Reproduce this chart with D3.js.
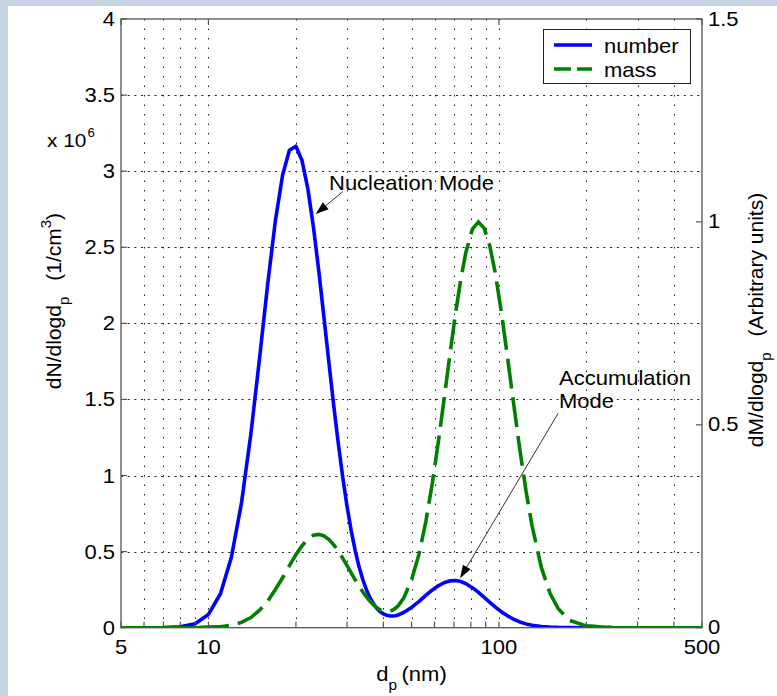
<!DOCTYPE html>
<html>
<head>
<meta charset="utf-8">
<script src="https://cdn.jsdelivr.net/npm/d3@7"></script>
<style>
  html, body { margin: 0; padding: 0; background: #fff; }
  svg { display: block; font-family: "Liberation Sans", Arial, Helvetica, sans-serif; }
</style>
</head>
<body>
<svg id="chart" width="777" height="696"></svg>
<script>
// Particle diameter (nm)
const diameters = [5, 6, 7, 8, 9, 10, 11, 12, 13, 14, 15, 16, 17, 18, 19, 20, 21, 22, 23, 24,
  25, 26, 27, 28, 29, 30, 31, 32, 33, 34, 35, 36, 37, 38, 39, 40, 41, 42, 43, 44, 45,
  47, 50, 53, 56, 59, 62, 65, 68, 71, 74, 77, 81, 85, 89, 93, 97, 102, 107, 112, 118,
  124, 130, 140, 150, 160, 175, 200, 250, 300, 400, 500];

// dN/dlogdp in units of 10^6 cm^-3 (left axis)
const numberDist = [0, 0, 0.001, 0.006, 0.026, 0.087, 0.223, 0.465, 0.822, 1.274, 1.774, 2.261,
  2.675, 2.975, 3.138, 3.164, 3.070, 2.882, 2.628, 2.338, 2.034, 1.737, 1.459, 1.208, 0.987,
  0.797, 0.638, 0.507, 0.400, 0.315, 0.248, 0.195, 0.156, 0.127, 0.105, 0.091, 0.082, 0.078,
  0.077, 0.079, 0.084, 0.100, 0.133, 0.172, 0.212, 0.248, 0.277, 0.297, 0.308, 0.310, 0.303,
  0.289, 0.263, 0.232, 0.199, 0.167, 0.137, 0.104, 0.078, 0.057, 0.038, 0.025, 0.016, 0.008,
  0.004, 0.002, 0.001, 0, 0, 0, 0, 0];

// dM/dlogdp, arbitrary units (right axis)
const massDist = [0, 0, 0, 0, 0, 0.001, 0.002, 0.006, 0.013, 0.025, 0.043, 0.066, 0.094, 0.123,
  0.153, 0.180, 0.202, 0.218, 0.228, 0.230, 0.226, 0.217, 0.204, 0.189, 0.171, 0.153, 0.135,
  0.118, 0.102, 0.088, 0.076, 0.065, 0.056, 0.049, 0.044, 0.041, 0.040, 0.041, 0.043, 0.048,
  0.054, 0.073, 0.117, 0.180, 0.261, 0.357, 0.463, 0.573, 0.680, 0.778, 0.861, 0.926, 0.982,
  1.000, 0.984, 0.941, 0.876, 0.776, 0.667, 0.559, 0.439, 0.336, 0.251, 0.148, 0.084, 0.047,
  0.018, 0.004, 0, 0, 0, 0];

// Axis ticks
const xMajorTicks = [5, 10, 100, 500];
const xMinorTicks = [6, 7, 8, 9, 20, 30, 40, 50, 60, 70, 80, 90, 200, 300, 400];
const leftTicks = [0, 0.5, 1, 1.5, 2, 2.5, 3, 3.5, 4];
const rightTicks = [0, 0.5, 1, 1.5];
const seriesNames = ["number", "mass"];

// Annotations placed in data coordinates (dp, left-axis value)
const annotations = [
  { lines: ["Nucleation Mode"], at: [26.0, 2.878], tail: [29.0, 2.866], tip: [23.4, 2.718] },
  { lines: ["Accumulation", "Mode"], at: [161, 1.595], tail: [160, 1.41], tip: [73.5, 0.325] }
];

const FS = 20;      // text size
const SX = 1.1;     // horizontal text stretch
const blue = "#0000ff", green = "#008000";

const svg = d3.select("#chart");
const W = 777, H = 696;
const plot = { left: 121, right: 702, top: 19, bottom: 627.7 };

// page frame strips
svg.append("rect").attr("x", 0).attr("y", 0).attr("width", W).attr("height", H).attr("fill", "#fff");
svg.append("rect").attr("x", 0).attr("y", 0).attr("width", 8).attr("height", H).attr("fill", "#c7d4e3");
svg.append("rect").attr("x", 0).attr("y", 0).attr("width", W).attr("height", 6).attr("fill", "#c7d4e3");

const x = d3.scaleLog().domain([5, 500]).range([plot.left, plot.right]);
const yL = d3.scaleLinear().domain([0, 4]).range([plot.bottom, plot.top]);
const yR = d3.scaleLinear().domain([0, 1.5]).range([plot.bottom, plot.top]);

function stretchedText(parent, px, py, str, anchor, size) {
  return parent.append("text")
    .attr("transform", `translate(${px},${py}) scale(${SX},1)`)
    .attr("text-anchor", anchor || "start")
    .attr("font-size", size || FS)
    .attr("fill", "#000")
    .text(str);
}

// grid
const grid = svg.append("g").attr("stroke", "#222").attr("stroke-width", 1).attr("fill", "none");
grid.selectAll("line.v").data(xMinorTicks.concat([10, 100])).join("line")
  .attr("x1", d => Math.round(x(d)) + 0.5).attr("x2", d => Math.round(x(d)) + 0.5)
  .attr("y1", plot.top).attr("y2", plot.bottom)
  .attr("stroke-dasharray", "1.5,8");
grid.selectAll("line.h").data(leftTicks.filter(d => d > 0 && d < 4)).join("line")
  .attr("y1", d => Math.round(yL(d)) + 0.5).attr("y2", d => Math.round(yL(d)) + 0.5)
  .attr("x1", plot.left).attr("x2", plot.right)
  .attr("stroke-dasharray", "2,4.7");

// curves
svg.append("clipPath").attr("id", "plotClip").append("rect")
  .attr("x", plot.left).attr("y", plot.top - 4)
  .attr("width", plot.right - plot.left).attr("height", plot.bottom - plot.top + 4);

const numberLine = d3.line().x((d, i) => x(diameters[i])).y(d => yL(d));
const massLine = d3.line().x((d, i) => x(diameters[i])).y(d => yR(d));
// the flat tails of the mass curve render as an unbroken stroke
const massTail = d3.line().defined(d => d <= 0.004).x((d, i) => x(diameters[i])).y(d => yR(d));

const curves = svg.append("g").attr("clip-path", "url(#plotClip)");
curves.append("path").datum(numberDist).attr("d", numberLine)
  .attr("fill", "none").attr("stroke", blue).attr("stroke-width", 3.6)
  .attr("stroke-linejoin", "round");
curves.append("path").datum(massDist).attr("d", massLine)
  .attr("fill", "none").attr("stroke", green).attr("stroke-width", 3.6)
  .attr("stroke-dasharray", "30,9");
curves.append("path").datum(massDist).attr("d", massTail)
  .attr("fill", "none").attr("stroke", green).attr("stroke-width", 3.6);

// axes box
const axisColor = "#555";
svg.append("rect").attr("x", plot.left).attr("y", plot.top)
  .attr("width", plot.right - plot.left).attr("height", plot.bottom - plot.top)
  .attr("fill", "none").attr("stroke", axisColor).attr("stroke-width", 1.3);

// ticks (inward)
const TL = 6;
const ticks = svg.append("g").attr("stroke", axisColor).attr("stroke-width", 1.2);
ticks.selectAll("line.xb").data(xMajorTicks.concat(xMinorTicks)).join("line")
  .attr("x1", d => x(d)).attr("x2", d => x(d))
  .attr("y1", plot.bottom).attr("y2", plot.bottom - TL);
ticks.selectAll("line.xt").data(xMajorTicks).join("line")
  .attr("x1", d => x(d)).attr("x2", d => x(d))
  .attr("y1", plot.top).attr("y2", plot.top + TL);
ticks.selectAll("line.yl").data(leftTicks).join("line")
  .attr("x1", plot.left).attr("x2", plot.left + TL)
  .attr("y1", d => yL(d)).attr("y2", d => yL(d));
ticks.selectAll("line.yr").data(rightTicks).join("line")
  .attr("x1", plot.right).attr("x2", plot.right - TL)
  .attr("y1", d => yR(d)).attr("y2", d => yR(d));

// tick labels
const labels = svg.append("g");
xMajorTicks.forEach(d => stretchedText(labels, x(d), 654, String(d), "middle"));
leftTicks.forEach(d => stretchedText(labels, 115, yL(d) + 7, String(d), "end"));
rightTicks.forEach(d => stretchedText(labels, 708, yR(d) + 6.5, String(d), "start"));

// exponent note
const expo = labels.append("text")
  .attr("transform", `translate(47,147) scale(${SX},1)`)
  .attr("font-size", 19);
expo.append("tspan").text("x 10");
expo.append("tspan").attr("font-size", 12).attr("dy", -10).attr("dx", 1).text("6");

// x axis title
const xt = labels.append("text")
  .attr("transform", `translate(${(plot.left + plot.right) / 2},681) scale(${SX},1)`)
  .attr("text-anchor", "middle").attr("font-size", FS);
xt.append("tspan").text("d");
xt.append("tspan").attr("font-size", 14).attr("dy", 9).text("p");
xt.append("tspan").attr("dy", -9).attr("dx", 4).text("(nm)");

// left y title
const yl = labels.append("text")
  .attr("transform", "translate(61,301) rotate(-90)")
  .attr("text-anchor", "middle").attr("font-size", 21);
yl.append("tspan").text("dN/dlogd");
yl.append("tspan").attr("font-size", 15).attr("dy", 8).text("p");
yl.append("tspan").attr("dy", -8).attr("dx", 16).text("(1/cm");
yl.append("tspan").attr("font-size", 15).attr("dy", -10).text("3");
yl.append("tspan").attr("dy", 10).text(")");

// right y title
const yr = labels.append("text")
  .attr("transform", "translate(763,320) rotate(-90)")
  .attr("text-anchor", "middle").attr("font-size", 21);
yr.append("tspan").text("dM/dlogd");
yr.append("tspan").attr("font-size", 15).attr("dy", 8).text("p");
yr.append("tspan").attr("dy", -8).attr("dx", 16).text("(Arbitrary units)");

// legend
const lg = svg.append("g");
lg.append("rect").attr("x", 543.5).attr("y", 29.5).attr("width", 147).attr("height", 54)
  .attr("fill", "#fff").attr("stroke", "#222").attr("stroke-width", 1);
const legendStyles = [
  { color: blue, dash: null },
  { color: green, dash: "17,6" }
];
seriesNames.forEach((name, i) => {
  const yy = 45 + i * 24;
  lg.append("line").attr("x1", 554).attr("x2", 592).attr("y1", yy).attr("y2", yy)
    .attr("stroke", legendStyles[i].color).attr("stroke-width", 3.6)
    .attr("stroke-dasharray", legendStyles[i].dash);
  stretchedText(lg, 604, yy + 8, name, "start");
});

// annotations with arrows
const ann = svg.append("g");
annotations.forEach(a => {
  a.lines.forEach((ln, k) => stretchedText(ann, x(a.at[0]), yL(a.at[1]) + k * 23, ln, "start"));
  const tx = x(a.tail[0]), ty = yL(a.tail[1]);
  const px = x(a.tip[0]), py = yL(a.tip[1]);
  const ang = Math.atan2(py - ty, px - tx);
  const headLen = 13, headW = 4.5;
  const bx = px - headLen * Math.cos(ang), by = py - headLen * Math.sin(ang);
  ann.append("line").attr("x1", tx).attr("y1", ty).attr("x2", bx).attr("y2", by)
    .attr("stroke", "#333").attr("stroke-width", 1);
  const nx = -Math.sin(ang), ny = Math.cos(ang);
  ann.append("path")
    .attr("d", `M${px},${py}L${bx + nx * headW},${by + ny * headW}L${bx - nx * headW},${by - ny * headW}Z`)
    .attr("fill", "#000");
});
</script>
</body>
</html>
